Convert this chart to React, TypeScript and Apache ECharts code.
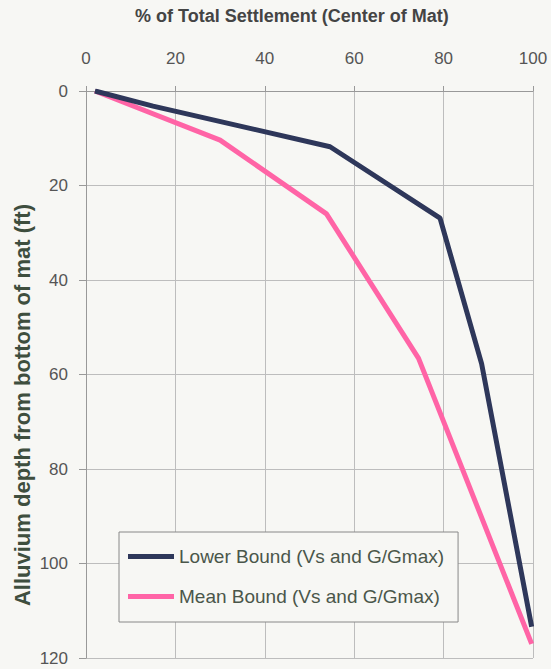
import React, { useEffect, useRef } from "react";
import * as echarts from "echarts";

const xTicks = [0, 20, 40, 60, 80, 100];
const yTicks = [0, 20, 40, 60, 80, 100, 120];
const seriesNames = ["Lower Bound (Vs and G/Gmax)", "Mean Bound (Vs and G/Gmax)"];
const lowerPct = [2, 15, 54.6, 79.2, 88.5, 99.7];
const lowerDepth = [0, 3.2, 11.8, 26.9, 57.7, 113.4];
const meanPct = [2, 30, 53.8, 74.4, 99.7];
const meanDepth = [0, 10.4, 26, 56.6, 117];
const titleText = "% of Total Settlement (Center of Mat)";
const yName = "Alluvium depth from bottom of mat (ft)";

export default function App() {
  const ref = useRef<HTMLDivElement>(null);
  useEffect(() => {
    if (!ref.current) return;
    const chart = echarts.init(ref.current, undefined, { renderer: "svg" });
    const font = "'Liberation Sans', Arial, sans-serif";
    chart.setOption({
      animation: false,
      backgroundColor: "#f7f7f4",
      textStyle: { fontFamily: font },
      grid: { left: 86, top: 91, right: 18, bottom: 11, containLabel: false },
      xAxis: {
        type: "value",
        position: "top",
        min: xTicks[0],
        max: xTicks[xTicks.length - 1],
        interval: 20,
        axisLine: { show: true, lineStyle: { color: "#999", width: 1 } },
        axisTick: { show: true, length: 5, lineStyle: { color: "#999" } },
        axisLabel: { margin: 24, fontSize: 17, color: "#555", fontFamily: font },
        splitLine: { show: true, lineStyle: { color: "#bdbdbd", width: 1 } },
      },
      yAxis: {
        type: "value",
        inverse: true,
        min: yTicks[0],
        max: yTicks[yTicks.length - 1],
        interval: 20,
        axisLine: { show: true, lineStyle: { color: "#999", width: 1 } },
        axisTick: { show: true, length: 7, lineStyle: { color: "#999" } },
        axisLabel: { margin: 18, fontSize: 17, color: "#555", fontFamily: font },
        splitLine: { show: true, lineStyle: { color: "#bdbdbd", width: 1 } },
      },
      legend: {
        orient: "vertical",
        left: 119,
        top: 532,
        padding: [15, 14, 16, 9],
        itemGap: 21,
        itemWidth: 46,
        itemHeight: 5,
        icon: "rect",
        backgroundColor: "#f7f7f4",
        borderColor: "#888",
        borderWidth: 1,
        borderRadius: 0,
        textStyle: { fontSize: 19, color: "#4a564a", fontFamily: font },
        data: seriesNames,
      },
      graphic: [
        {
          type: "text",
          left: 135,
          top: 7,
          style: {
            text: titleText,
            font: `bold 18px ${font}`,
            fill: "#444",
          },
        },
        {
          type: "text",
          x: 22,
          y: 405,
          rotation: Math.PI / 2,
          style: {
            text: yName,
            font: `bold 22px ${font}`,
            fill: "#3e4e3e",
            align: "center",
            verticalAlign: "middle",
          },
        },
      ],
      series: [
        {
          name: seriesNames[0],
          type: "line",
          showSymbol: false,
          symbol: "none",
          lineStyle: { color: "#2e375a", width: 5 },
          itemStyle: { color: "#2e375a" },
          data: lowerPct.map((x, i) => [x, lowerDepth[i]]),
          z: 3,
        },
        {
          name: seriesNames[1],
          type: "line",
          showSymbol: false,
          symbol: "none",
          lineStyle: { color: "#ff64a6", width: 5 },
          itemStyle: { color: "#ff64a6" },
          data: meanPct.map((x, i) => [x, meanDepth[i]]),
          z: 2,
        },
      ],
    });
    return () => chart.dispose();
  }, []);
  return (
    <div
      ref={ref}
      style={{ position: "fixed", left: 0, top: 0, width: 551, height: 669 }}
    />
  );
}
